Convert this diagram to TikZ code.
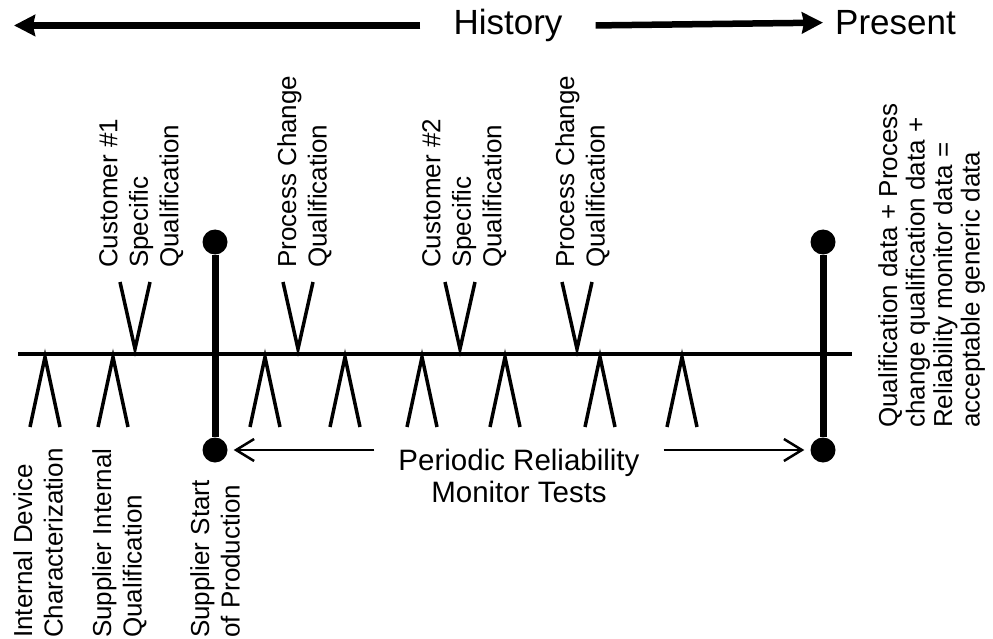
\documentclass[tikz,border=0pt]{standalone}
\usepackage{fontspec}
\setmainfont{Liberation Sans}
\usetikzlibrary{arrows.meta,positioning}

\begin{document}
\begin{tikzpicture}[x=1pt, y=-1pt,
    vlabel/.style={rotate=90, align=left, inner sep=0pt, anchor=north west, font=\fontsize{26}{30.5}\selectfont},
    bigarrow/.style={line width=6.5pt, -{Stealth[length=21pt,width=21pt,inset=2pt]}},
    enddot/.style={circle, fill=black, inner sep=0pt, minimum size=25pt},
    bar/.style={line width=7pt},
    caret/.style={line width=3.5pt},
    pra/.style={line width=2.5pt, -{Straight Barb[length=18pt,width=22pt]}, shorten >=6pt}]
    \useasboundingbox (0,0) rectangle (993,639);

    % history / present
    \node[font=\fontsize{35}{40}\selectfont, inner ysep=0pt, inner xsep=33pt, anchor=base] (history) at (508,34.5) {History};
    \node[font=\fontsize{35}{40}\selectfont, inner ysep=0pt, inner xsep=12pt, anchor=base west] (present) at (823,34.5) {Present};
    \coordinate (pastEnd) at (14,25);
    \draw[bigarrow] (history.west) -- (pastEnd |- history.west);
    \draw[bigarrow] (history.east) -- (present.west);

    % time line
    \coordinate (tlStart) at (18,354);
    \coordinate (tlEnd) at (852,354);
    \draw[line width=4pt] (tlStart) -- (tlEnd);

    \foreach \x in {45,113,265,345,422,505,600,682}
        \draw[caret] (\x-15,427) -- (\x,357) -- (\x+15,427);
    \foreach \x in {135,298,460,577}
        \draw[caret] (\x-15,282) -- (\x,349) -- (\x+15,282);

    % start of production and present
    \node[enddot] (sopTop) at (215,242) {};
    \node[enddot] (sopBot) at (215,450) {};
    \node[enddot] (nowTop) at (823,242) {};
    \node[enddot] (nowBot) at (823,450) {};
    \draw[bar] (sopTop) -- (sopBot);
    \draw[bar] (nowTop) -- (nowBot);

    % labels
    \node[vlabel] (cust1) at (99,268) {Customer \#1\\Specific\\Qualification};
    \node[vlabel] (pcq1) at (277,268) {Process Change\\Qualification};
    \node[vlabel] (cust2) at (422,268) {Customer \#2\\Specific\\Qualification};
    \node[vlabel] (pcq2) at (555,268) {Process Change\\Qualification};
    \node[vlabel] (idc) at (13,638) {Internal Device\\Characterization};
    \node[vlabel] (siq) at (92,638) {Supplier Internal\\Qualification};
    \node[vlabel] (ssp) at (190,638) {Supplier Start\\of Production};
    \node[vlabel, font=\fontsize{26}{27.5}\selectfont] (generic) at (878,428) {Qualification data + Process\\change qualification data +\\Reliability monitor data =\\acceptable generic data};

    \node[font=\fontsize{29.5}{32}\selectfont, align=center, inner ysep=0pt, inner xsep=24pt, anchor=north] (periodic) at (519,449) {Periodic Reliability\\Monitor Tests};
    \draw[pra] (periodic.west |- sopBot) -- (sopBot);
    \draw[pra] (periodic.east |- nowBot) -- (nowBot);
\end{tikzpicture}
\end{document}
